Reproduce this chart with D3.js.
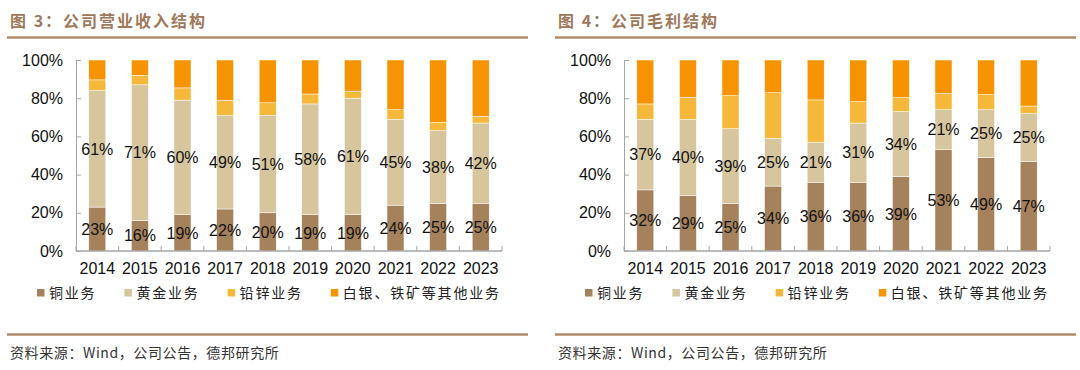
<!DOCTYPE html>
<html>
<head>
<meta charset="utf-8">
<title></title>
<style>
  body { margin: 0; background: #fff; }
  text { font-family: "Liberation Sans", Arial, sans-serif; }
  .cjk { font-family: "Noto Sans CJK SC", sans-serif; }
</style>
</head>
<body>
<div class="chart"></div>
<script src="https://cdn.jsdelivr.net/npm/d3@7"></script>
<script type="text/javascript">
  // ---- data ----
  var years    = ["2014","2015","2016","2017","2018","2019","2020","2021","2022","2023"];
  var series   = ["铜业务", "黄金业务", "铅锌业务", "白银、铁矿等其他业务"];
  var colors   = ["#a5825b", "#d6c59d", "#f5b83a", "#f59300"];
  var yTicks   = [0, 20, 40, 60, 80, 100];

  // 图3 营业收入结构 (%)
  var revCopper = [23, 16, 19, 22, 20, 19, 19, 24, 25, 25];
  var revGold   = [61, 71, 60, 49, 51, 58, 61, 45, 38, 42];
  var revPbZn   = [5.6, 5.0, 6.4, 7.9, 6.6, 5.2, 3.7, 5.0, 4.3, 3.5];
  var revOther  = [10.4, 8.0, 14.6, 21.1, 22.4, 17.8, 16.3, 26.0, 32.7, 29.5];

  // 图4 毛利结构 (%)
  var gpCopper = [32, 29, 25, 34, 36, 36, 39, 53, 49, 47];
  var gpGold   = [37, 40, 39, 25, 21, 31, 34, 21, 25, 25];
  var gpPbZn   = [8.0, 11.5, 17.3, 23.9, 22.1, 11.2, 7.3, 8.4, 7.9, 3.9];
  var gpOther  = [23.0, 19.5, 18.7, 17.1, 20.9, 21.8, 19.7, 17.6, 18.1, 24.1];

  var width = 1080, height = 370;
  var svg = d3.select(".chart").append("svg").attr("width", width).attr("height", height);

  function drawPanel(ox, title, cols) {
    var g = svg.append("g").attr("transform", "translate(" + ox + ",0)");

    // title + rules
    g.append("text").attr("class", "cjk")
      .attr("x", 10).attr("y", 27)
      .attr("font-size", 16).attr("font-weight", "bold")
      .attr("letter-spacing", "2px")
      .attr("fill", "#a0785a")
      .text(title);
    g.append("line").attr("x1", 7).attr("x2", 528).attr("y1", 37.5).attr("y2", 37.5)
      .attr("stroke", "#b08a68").attr("stroke-width", 2.5);
    g.append("line").attr("x1", 7).attr("x2", 528).attr("y1", 334.5).attr("y2", 334.5)
      .attr("stroke", "#b08a68").attr("stroke-width", 2.5);
    g.append("text").attr("class", "cjk")
      .attr("x", 10).attr("y", 358)
      .attr("font-size", 14).attr("fill", "#333")
      .attr("letter-spacing", "0.6px")
      .text("资料来源：Wind，公司公告，德邦研究所");

    var rows = years.map(function (y, i) {
      var r = { year: y };
      series.forEach(function (s, k) { r[s] = cols[k][i]; });
      return r;
    });
    var stacked = d3.stack().keys(series)(rows);

    var x = d3.scaleBand().domain(years).range([76, 502]);
    var y = d3.scaleLinear().domain([0, 100]).range([251, 60]);
    var bw = 17;

    // y axis
    var ya = g.append("g").attr("transform", "translate(76,0)")
      .call(d3.axisLeft(y).tickValues(yTicks).tickSize(-5).tickPadding(13)
        .tickFormat(function (d) { return d + "%"; }));
    ya.select(".domain").attr("stroke", "#a6a6a6");
    ya.selectAll(".tick line").attr("stroke", "#a6a6a6");
    ya.selectAll("text").attr("font-size", 16).attr("fill", "#111")
      .attr("font-family", "Liberation Sans, Arial, sans-serif");

    // bars
    var layers = g.selectAll(".layer").data(stacked).enter().append("g")
      .attr("fill", function (d, i) { return colors[i]; });
    layers.selectAll("rect").data(function (d) { return d; }).enter().append("rect")
      .attr("x", function (d) { return x(d.data.year) + x.bandwidth() / 2 - bw / 2; })
      .attr("width", bw)
      .attr("y", function (d) { return y(d[1]); })
      .attr("height", function (d) { return y(d[0]) - y(d[1]); })
      .attr("stroke", "#fff").attr("stroke-width", 0.5);

    // labels on the first two series
    stacked.slice(0, 2).forEach(function (layer) {
      g.selectAll(null).data(layer).enter().append("text")
        .attr("x", function (d) { return x(d.data.year) + x.bandwidth() / 2; })
        .attr("y", function (d) { return y((d[0] + d[1]) / 2); })
        .attr("dy", "0.36em")
        .attr("text-anchor", "middle")
        .attr("font-size", 16).attr("fill", "#111")
        .text(function (d) { return Math.round(d[1] - d[0]) + "%"; });
    });

    // x axis
    var xa = g.append("g").attr("transform", "translate(0,251)")
      .call(d3.axisBottom(x).tickSize(0).tickPadding(12));
    xa.select(".domain").remove();
    xa.selectAll("text").attr("font-size", 16).attr("fill", "#111")
      .attr("font-family", "Liberation Sans, Arial, sans-serif");
    g.append("line").attr("x1", 76).attr("x2", 502).attr("y1", 251).attr("y2", 251)
      .attr("stroke", "#a6a6a6").attr("stroke-width", 1.5);
    var bounds = years.map(function (d) { return x(d); }).concat([x.range()[1]]);
    g.selectAll(".xt").data(bounds).enter().append("line")
      .attr("x1", function (d) { return d; }).attr("x2", function (d) { return d; })
      .attr("y1", 251).attr("y2", 246)
      .attr("stroke", "#a6a6a6");

    // legend
    var lx = 37;
    series.forEach(function (s, i) {
      g.append("rect").attr("x", lx).attr("y", 289).attr("width", 7.5).attr("height", 7.5)
        .attr("fill", colors[i]);
      var t = g.append("text").attr("class", "cjk")
        .attr("x", lx + 12).attr("y", 293).attr("dy", "0.36em")
        .attr("font-size", 14).attr("fill", "#222")
        .attr("letter-spacing", "1.8px")
        .text(s);
      lx += 12 + t.node().getComputedTextLength() + 28;
    });
  }

  drawPanel(0, "图 3：公司营业收入结构", [revCopper, revGold, revPbZn, revOther]);
  drawPanel(548, "图 4：公司毛利结构", [gpCopper, gpGold, gpPbZn, gpOther]);
</script>
</body>
</html>
